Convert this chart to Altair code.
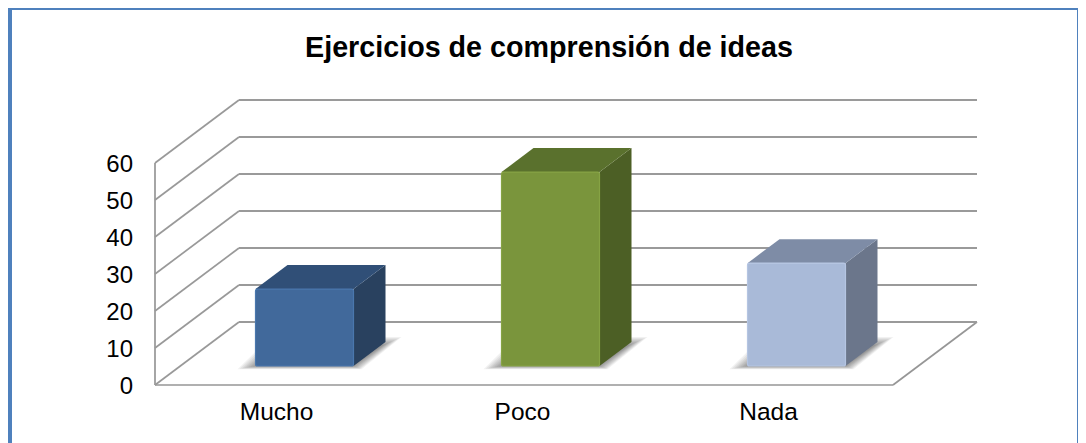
import altair as alt
import pandas as pd

categories = ["Mucho", "Poco", "Nada"]
values = [20.8, 52.4, 27.8]
front_colors = ["#41699b", "#7a953c", "#a9bad8"]
edge_colors = ["#4a77ad", "#86a344", "#b5c5e2"]
top_colors = ["#304f77", "#5a712d", "#7e8ca6"]
side_colors = ["#29415f", "#4c5f25", "#6b768b"]
grid_values = [0, 10, 20, 30, 40, 50, 60]
title_text = "Ejercicios de comprensión de ideas"

PW, PH = 738, 222
ux = 3 / PW      # x units per pixel
uy = 60 / PH     # y units per pixel
wall_dx, wall_dy = 84 * ux, 63 * uy
bar_dx, bar_dy = 32 * ux, 24 * uy
bar_w = 98 * ux
bar_shift = 26.5 * ux
base = 19 * uy


def px(p):
    return p - 155


def py(p):
    return p - 163


front, side, top, shadow = [], [], [], []
for i, (c, v) in enumerate(zip(categories, values)):
    l = i + 0.5 + bar_shift - bar_w / 2
    r = l + bar_w
    t = base + v
    front.append(dict(c=c, x=l, x2=r, y=base, y2=t, fill=front_colors[i], edge=edge_colors[i]))
    side += [dict(c=c, x=r, y=base, y2=t, fill=side_colors[i]),
             dict(c=c, x=r + bar_dx, y=base + bar_dy, y2=t + bar_dy, fill=side_colors[i])]
    top += [dict(c=c, y=t, x=l, x2=r, fill=top_colors[i]),
            dict(c=c, y=t + bar_dy, x=l + bar_dx, x2=r + bar_dx, fill=top_colors[i])]
    for k in range(9):
        g = f"{c}{k}"
        ins = k * 1.0
        shadow += [dict(g=g, y=base - (3.2 - ins * 0.4) * uy,
                        x=l + (-18 + ins * 2.2) * ux, x2=r + (8 - ins) * ux),
                   dict(g=g, y=base + (29 - ins) * uy,
                        x=l + (15 + ins * 2) * ux, x2=r + (48 - ins * 2.2) * ux)]

slants = [dict(x=0, x2=wall_dx, y=g, y2=g + wall_dy) for g in grid_values]
backs = [dict(x=wall_dx, x2=3 + wall_dx, y=g + wall_dy, y2=g + wall_dy) for g in grid_values]
edges = [dict(x=0, x2=0, y=0, y2=60),
         dict(x=0, x2=3, y=0, y2=0),
         dict(x=3, x2=3 + wall_dx, y=0, y2=wall_dy)]
y_labels = pd.DataFrame({"y": grid_values, "t": [str(g) for g in grid_values]})

X = alt.X("x:Q", scale=alt.Scale(domain=[0, 3], nice=False, zero=False),
          axis=alt.Axis(values=[0.5, 1.5, 2.5], title=None, grid=False, domain=False, ticks=False,
                        labelExpr="['Mucho','Poco','Nada'][floor(datum.value)]",
                        labelFont="Liberation Sans", labelFontSize=24.5, labelColor="#000",
                        labelPadding=15, labelOverlap=False, labelOffset=-2))
Y = alt.Y("y:Q", scale=alt.Scale(domain=[0, 60], nice=False, zero=False),
          axis=alt.Axis(values=grid_values, title=None, grid=False, domain=False, ticks=False, labels=False))
Xn = alt.X("x:Q", title=None)
Yn = alt.Y("y:Q", title=None)


def rules(rows, color, w):
    return alt.Chart(pd.DataFrame(rows)).mark_rule(color=color, strokeWidth=w).encode(
        x=Xn, x2="x2:Q", y=Yn, y2="y2:Q")


axes = alt.Chart(pd.DataFrame(edges)).mark_rule(color="#969696", strokeWidth=1.7).encode(
    x=X, x2="x2:Q", y=Y, y2="y2:Q")

y_label_layer = alt.Chart(y_labels).mark_text(
    font="Liberation Sans", fontSize=24, color="#000", align="right", baseline="middle", dy=1.5
).encode(y=Yn, text="t:N", x=alt.value(-22))

shadow_layer = alt.Chart(pd.DataFrame(shadow)).mark_area(
    orient="horizontal", color="#000", opacity=0.055).encode(
    y=Yn, x=Xn, x2="x2:Q", detail="g:N")

side_layer = alt.Chart(pd.DataFrame(side)).mark_area(orient="vertical").encode(
    x=Xn, y=Yn, y2="y2:Q", detail="c:N", fill=alt.Fill("fill:N", scale=None))

top_layer = alt.Chart(pd.DataFrame(top)).mark_area(orient="horizontal").encode(
    y=Yn, x=Xn, x2="x2:Q", detail="c:N", fill=alt.Fill("fill:N", scale=None))

front_layer = alt.Chart(pd.DataFrame(front)).mark_rect(cornerRadius=2, strokeWidth=1.2).encode(
    x=Xn, x2="x2:Q", y=Yn, y2="y2:Q",
    fill=alt.Fill("fill:N", scale=None), stroke=alt.Stroke("edge:N", scale=None))

title_layer = alt.Chart(pd.DataFrame({"t": [title_text]})).mark_text(
    font="Liberation Sans", fontSize=28.7, fontWeight="bold", color="#000", align="center", baseline="alphabetic"
).encode(text="t:N", x=alt.value(px(549)), y=alt.value(py(57)))

frame_color = "#4f81bd"
one = pd.DataFrame({"a": [0]})
frame = [
    alt.Chart(one).mark_rule(color=frame_color, strokeWidth=4).encode(
        x=alt.value(px(10)), y=alt.value(py(0)), y2=alt.value(py(450))),
    alt.Chart(one).mark_rule(color=frame_color, strokeWidth=2).encode(
        y=alt.value(py(9)), x=alt.value(px(0)), x2=alt.value(px(1090))),
    alt.Chart(one).mark_rule(color=frame_color, strokeWidth=1).encode(
        x=alt.value(px(1077.5)), y=alt.value(py(0)), y2=alt.value(py(450))),
]

left = 155 - 8
topp = 163 - 8
W, H = 1070, 435
chart = alt.layer(
    axes,
    rules(slants, "#999999", 1.7),
    rules(backs, "#9a9a9a", 2.2),
    shadow_layer, side_layer, top_layer, front_layer,
    y_label_layer,
    title_layer,
    *frame,
).properties(
    width=PW, height=PH,
    padding={"left": left, "top": topp, "right": W - left - PW, "bottom": H - topp - PH},
    autosize=alt.AutoSizeParams(type="none"),
).configure_view(stroke=None).configure_axis(labelOverlap=False)

chart.save("out.html", embed_options={"renderer": "svg", "actions": False})
